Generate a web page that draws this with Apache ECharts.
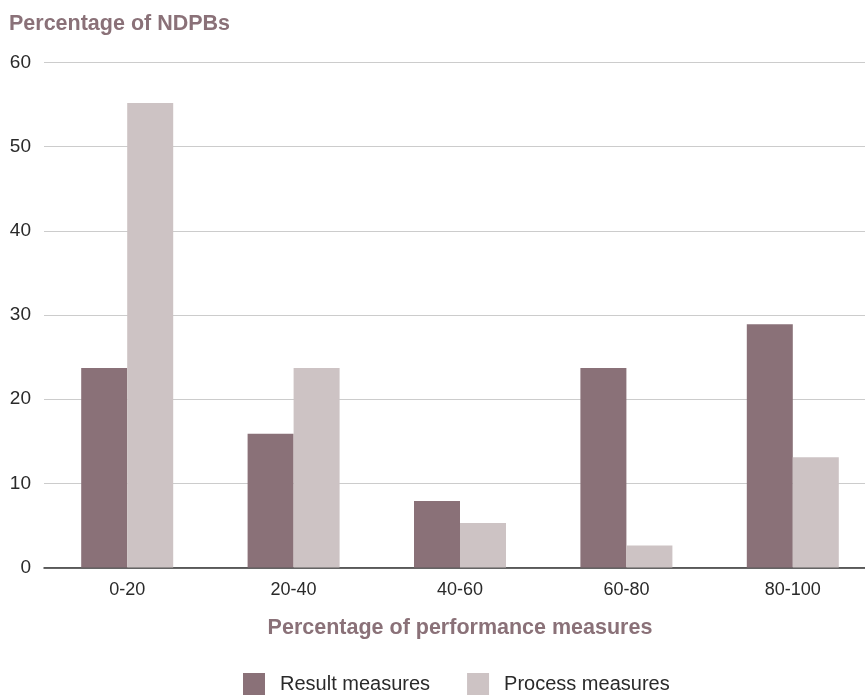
<!DOCTYPE html>
<html>
<head>
<meta charset="utf-8">
<script src="https://cdn.jsdelivr.net/npm/echarts@6/dist/echarts.min.js"></script>
<style>
  html, body { margin: 0; padding: 0; background: #fff; overflow: hidden; }
  /* the plot runs a little past the right edge of the window */
  #chart { width: 876px; height: 695px; }
</style>
</head>
<body>
<div id="chart"></div>
<script>
// Share of NDPBs by share of performance measures of each type
const categories = ['0-20', '20-40', '40-60', '60-80', '80-100'];
const resultMeasures = [23.7, 15.9, 7.9, 23.7, 28.9];
const processMeasures = [55.2, 23.7, 5.3, 2.6, 13.1];
const yTicks = [0, 10, 20, 30, 40, 50, 60];

const FONT = '"Liberation Sans", Arial, Helvetica, sans-serif';
const DARK = '#8a7178';
const LIGHT = '#cdc3c4';
const TEXT = '#2a2a2a';

const chart = echarts.init(document.getElementById('chart'));
chart.setOption({
  animation: false,
  textStyle: { fontFamily: FONT },
  title: {
    text: 'Percentage of NDPBs',
    left: 4,
    top: 8,
    textStyle: { color: DARK, fontSize: 21.5, fontWeight: 'bold', fontFamily: FONT }
  },
  legend: {
    bottom: 0,
    left: 243,
    padding: 0,
    itemWidth: 22,
    itemHeight: 22,
    itemGap: 37,
    icon: 'rect',
    textStyle: { color: TEXT, fontSize: 20, fontFamily: FONT, padding: [0, 0, 0, 10] },
    data: ['Result measures', 'Process measures']
  },
  grid: { left: 44, right: 0, top: 62.5, bottom: 127.5, containLabel: false },
  xAxis: {
    type: 'category',
    data: categories,
    name: 'Percentage of performance measures',
    nameLocation: 'middle',
    nameGap: 50,
    nameTextStyle: { color: DARK, fontSize: 21.5, fontWeight: 'bold', fontFamily: FONT },
    axisLine: { lineStyle: { color: '#333', width: 1.5 } },
    axisTick: { show: false },
    axisLabel: { color: TEXT, fontSize: 18, margin: 14, fontFamily: FONT }
  },
  yAxis: {
    type: 'value',
    min: yTicks[0],
    max: yTicks[yTicks.length - 1],
    interval: 10,
    axisLine: { show: false },
    axisTick: { show: false },
    axisLabel: { color: TEXT, fontSize: 19, margin: 13, fontFamily: FONT },
    splitLine: { lineStyle: { color: '#cccccc', width: 1 } }
  },
  series: [
    {
      name: 'Result measures',
      type: 'bar',
      data: resultMeasures,
      barWidth: 46,
      barGap: '0%',
      itemStyle: { color: DARK }
    },
    {
      name: 'Process measures',
      type: 'bar',
      data: processMeasures,
      barWidth: 46,
      barGap: '0%',
      itemStyle: { color: LIGHT }
    }
  ]
});
</script>
</body>
</html>
